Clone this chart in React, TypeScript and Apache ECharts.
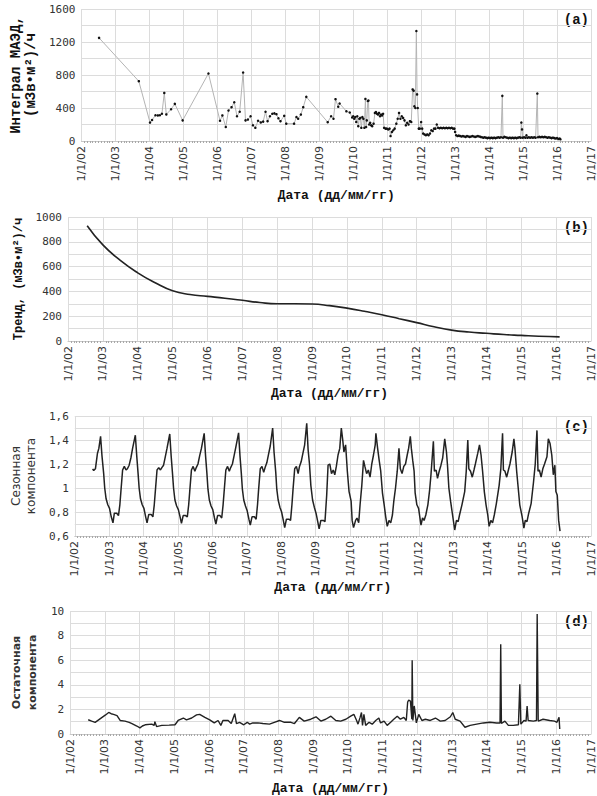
import React, { useEffect, useRef } from "react";
import * as echarts from "echarts";

// x values are decimal years
const xTickMin = 2002;
const xTickMax = 2017;

// (a) measured integral dose rate
const measured: [number, number][] = [
  [2002.52,1250],[2003.69,725],[2004.02,223],[2004.08,255],[2004.18,312],[2004.25,310],[2004.31,312],[2004.37,330],[2004.44,583],[2004.5,322],[2004.64,385],[2004.75,450],[2004.98,250],[2005.74,818],[2006.08,245],[2006.15,310],[2006.25,170],[2006.33,370],[2006.42,410],[2006.5,470],[2006.58,300],[2006.66,355],[2006.76,830],[2006.83,250],[2006.9,260],[2006.98,300],[2007.05,190],[2007.12,160],[2007.2,245],[2007.28,225],[2007.35,235],[2007.42,355],[2007.48,240],[2007.55,300],[2007.62,330],[2007.68,335],[2007.74,325],[2007.8,275],[2007.86,240],[2007.97,305],[2008.03,210],[2008.26,210],[2008.33,290],[2008.38,270],[2008.46,320],[2008.53,410],[2008.62,535],[2009.25,228],[2009.35,300],[2009.42,270],[2009.48,507],[2009.56,415],[2009.6,455],[2009.8,360],[2009.9,345],
  [2009.97,285],[2010.0,300],[2010.03,270],[2010.06,290],[2010.09,230],[2010.12,300],[2010.15,180],[2010.18,270],[2010.21,280],[2010.24,160],[2010.27,290],[2010.3,270],[2010.33,160],[2010.36,510],[2010.38,170],[2010.4,250],[2010.43,485],[2010.45,490],[2010.47,200],[2010.5,220],[2010.53,190],[2010.56,180],[2010.6,210],[2010.64,340],[2010.67,350],[2010.7,330],[2010.73,320],[2010.76,340],[2010.79,300],[2010.82,320],[2010.85,310],[2010.88,330],[2010.91,160],[2010.95,150],[2010.99,150],[2011.03,140],[2011.07,150],[2011.1,60],[2011.14,110],[2011.18,130],[2011.22,150],[2011.27,210],[2011.31,270],[2011.35,340],[2011.39,270],[2011.43,300],[2011.47,280],[2011.51,250],[2011.55,190],[2011.59,220],[2011.63,200],[2011.67,240],[2011.71,230],[2011.75,625],[2011.78,610],[2011.8,420],[2011.83,400],[2011.86,1333],[2011.88,565],[2011.9,400],[2011.93,150],[2011.96,150],[2012.0,230],[2012.03,150],[2012.06,90],[2012.1,80],[2012.14,70],[2012.18,80],[2012.22,70],[2012.26,90],[2012.3,130],[2012.34,120],[2012.38,150],[2012.42,150],[2012.46,200],[2012.5,160],[2012.54,155],[2012.58,160],[2012.62,155],[2012.66,160],[2012.7,155],[2012.74,160],[2012.78,155],[2012.82,160],[2012.86,155],[2012.9,160],[2012.94,150],[2012.98,150],
  [2013.0,110],[2013.03,70],[2013.07,60],[2013.11,65],[2013.15,60],[2013.19,55],[2013.23,60],[2013.27,55],[2013.31,50],[2013.35,60],[2013.39,55],[2013.43,50],[2013.47,55],[2013.51,60],[2013.55,55],[2013.59,50],[2013.63,55],[2013.67,60],[2013.71,55],[2013.75,50],[2013.79,45],[2013.83,40],[2013.87,45],[2013.91,40],[2013.95,35],[2013.99,40],[2014.03,35],[2014.07,40],[2014.11,35],[2014.15,40],[2014.19,35],[2014.23,40],[2014.27,45],[2014.31,40],[2014.35,45],[2014.39,547],[2014.41,40],[2014.45,50],[2014.49,45],[2014.53,40],[2014.57,35],[2014.61,40],[2014.65,35],[2014.69,40],[2014.73,35],[2014.77,40],[2014.81,35],[2014.85,40],[2014.89,45],[2014.93,40],[2014.95,223],[2014.97,140],[2014.99,40],[2015.03,45],[2015.07,40],[2015.1,70],[2015.13,40],[2015.17,45],[2015.21,40],[2015.25,45],[2015.29,40],[2015.33,45],[2015.37,40],[2015.42,575],[2015.44,45],[2015.48,50],[2015.52,45],[2015.56,50],[2015.6,45],[2015.64,50],[2015.68,45],[2015.72,40],[2015.76,45],[2015.8,40],[2015.84,35],[2015.88,40],[2015.92,35],[2015.96,30],[2016.0,35],[2016.04,25],[2016.08,30],[2016.1,20]
];

// (b) trend
const trend: [number, number][] = [
  [2002.55,930],[2003.0,775],[2003.5,650],[2004.0,550],[2004.5,470],[2005.0,405],[2005.5,375],[2006.0,360],[2006.5,345],[2007.0,328],[2007.5,310],[2008.0,300],[2008.5,300],[2009.0,298],[2009.5,285],[2010.0,265],[2010.5,240],[2011.0,212],[2011.5,180],[2012.0,148],[2012.5,115],[2013.0,88],[2013.5,72],[2014.0,62],[2014.5,52],[2015.0,45],[2015.5,38],[2016.1,33]
];

// (c) seasonal component
const seasonal: [number, number][] = [
  [2002.52,1.16],[2002.55,1.145],[2002.6,1.16],[2002.66,1.29],[2002.7,1.33],[2002.75,1.43],[2002.79,1.27],[2002.84,1.12],[2002.87,1.0],[2002.91,0.91],[2002.96,0.86],
  [2003.01,0.83],[2003.06,0.76],[2003.11,0.71],[2003.15,0.79],[2003.22,0.79],[2003.27,0.77],[2003.31,0.86],[2003.34,0.97],[2003.39,1.15],[2003.44,1.18],[2003.49,1.15],[2003.53,1.16],[2003.58,1.19],[2003.63,1.25],[2003.68,1.33],[2003.76,1.44],[2003.8,1.27],[2003.84,1.12],[2003.87,1.0],[2003.91,0.91],[2003.96,0.86],
  [2004.01,0.83],[2004.06,0.76],[2004.1,0.71],[2004.15,0.78],[2004.22,0.78],[2004.27,0.76],[2004.31,0.86],[2004.34,0.97],[2004.39,1.15],[2004.44,1.17],[2004.49,1.15],[2004.53,1.17],[2004.58,1.19],[2004.63,1.26],[2004.68,1.33],[2004.76,1.45],[2004.8,1.27],[2004.84,1.12],[2004.87,1.0],[2004.91,0.9],[2004.96,0.85],
  [2005.01,0.82],[2005.06,0.76],[2005.1,0.705],[2005.15,0.77],[2005.22,0.77],[2005.27,0.76],[2005.31,0.86],[2005.34,0.97],[2005.39,1.15],[2005.44,1.18],[2005.49,1.14],[2005.53,1.17],[2005.58,1.2],[2005.63,1.27],[2005.68,1.33],[2005.76,1.455],[2005.8,1.27],[2005.84,1.12],[2005.87,0.99],[2005.91,0.9],[2005.96,0.85],
  [2006.01,0.82],[2006.06,0.75],[2006.1,0.70],[2006.15,0.77],[2006.22,0.77],[2006.27,0.75],[2006.31,0.86],[2006.34,0.97],[2006.39,1.15],[2006.44,1.18],[2006.49,1.14],[2006.53,1.17],[2006.58,1.2],[2006.63,1.27],[2006.68,1.34],[2006.76,1.46],[2006.8,1.27],[2006.84,1.12],[2006.87,0.99],[2006.91,0.9],[2006.96,0.85],
  [2007.01,0.81],[2007.06,0.74],[2007.1,0.69],[2007.15,0.76],[2007.22,0.76],[2007.27,0.74],[2007.31,0.86],[2007.34,0.98],[2007.39,1.16],[2007.44,1.18],[2007.49,1.13],[2007.53,1.17],[2007.58,1.21],[2007.63,1.28],[2007.68,1.35],[2007.75,1.5],[2007.79,1.3],[2007.84,1.13],[2007.87,0.99],[2007.91,0.9],[2007.96,0.84],
  [2008.01,0.8],[2008.06,0.73],[2008.1,0.67],[2008.15,0.74],[2008.22,0.74],[2008.27,0.73],[2008.31,0.86],[2008.34,0.98],[2008.39,1.16],[2008.44,1.18],[2008.49,1.12],[2008.53,1.18],[2008.58,1.22],[2008.63,1.29],[2008.68,1.36],[2008.74,1.54],[2008.78,1.32],[2008.82,1.2],[2008.86,1.02],[2008.91,0.9],[2008.96,0.84],
  [2009.01,0.79],[2009.06,0.72],[2009.1,0.66],[2009.15,0.73],[2009.22,0.73],[2009.27,0.72],[2009.32,0.94],[2009.36,1.19],[2009.41,1.2],[2009.46,1.12],[2009.51,1.15],[2009.555,1.11],[2009.6,1.18],[2009.65,1.275],[2009.7,1.33],[2009.745,1.5],[2009.79,1.39],[2009.82,1.3],[2009.87,1.36],[2009.92,1.14],[2009.97,0.97],
  [2010.03,0.89],[2010.06,0.73],[2010.1,0.67],[2010.16,0.73],[2010.2,0.75],[2010.25,0.71],[2010.29,0.86],[2010.34,1.02],[2010.39,1.23],[2010.43,1.18],[2010.48,1.12],[2010.53,1.15],[2010.58,1.09],[2010.63,1.2],[2010.68,1.275],[2010.73,1.36],[2010.75,1.456],[2010.8,1.33],[2010.845,1.23],[2010.89,1.14],[2010.94,0.96],[2010.99,0.86],
  [2011.035,0.76],[2011.08,0.68],[2011.13,0.73],[2011.18,0.71],[2011.23,0.775],[2011.27,0.89],[2011.32,1.0],[2011.37,1.14],[2011.42,1.33],[2011.46,1.16],[2011.51,1.12],[2011.56,1.18],[2011.61,1.2],[2011.66,1.275],[2011.7,1.33],[2011.75,1.43],[2011.78,1.33],[2011.82,1.23],[2011.86,1.14],[2011.89,0.96],[2011.94,0.86],[2011.99,0.83],
  [2012.06,0.69],[2012.105,0.75],[2012.15,0.73],[2012.2,0.775],[2012.26,0.86],[2012.31,0.98],[2012.35,1.11],[2012.42,1.39],[2012.45,1.14],[2012.5,1.15],[2012.54,1.08],[2012.59,1.14],[2012.64,1.19],[2012.69,1.25],[2012.75,1.41],[2012.8,1.3],[2012.83,1.19],[2012.87,1.0],[2012.92,0.89],[2012.965,0.8],
  [2013.04,0.65],[2013.09,0.73],[2013.14,0.72],[2013.18,0.775],[2013.25,0.86],[2013.33,0.97],[2013.375,1.14],[2013.42,1.40],[2013.45,1.16],[2013.5,1.14],[2013.55,1.09],[2013.6,1.15],[2013.64,1.2],[2013.71,1.29],[2013.76,1.36],[2013.805,1.275],[2013.85,1.14],[2013.9,0.97],[2013.95,0.86],
  [2014.0,0.775],[2014.04,0.68],[2014.09,0.73],[2014.14,0.71],[2014.19,0.775],[2014.25,0.87],[2014.33,1.02],[2014.38,1.16],[2014.43,1.456],[2014.455,1.15],[2014.5,1.14],[2014.55,1.09],[2014.6,1.15],[2014.645,1.2],[2014.71,1.3],[2014.76,1.41],[2014.79,1.33],[2014.84,1.14],[2014.885,1.0],[2014.93,0.86],
  [2015.0,0.76],[2015.05,0.665],[2015.09,0.73],[2015.14,0.72],[2015.19,0.79],[2015.26,0.87],[2015.33,1.05],[2015.38,1.2],[2015.43,1.48],[2015.46,1.14],[2015.5,1.15],[2015.55,1.09],[2015.6,1.16],[2015.65,1.2],[2015.72,1.26],[2015.76,1.41],[2015.81,1.37],[2015.86,1.275],[2015.905,1.11],[2015.95,1.19],[2015.98,0.97],
  [2016.02,0.94],[2016.06,0.73],[2016.1,0.64]
];

// (d) residual component
const residual: [number, number][] = [
  [2002.52,1.16],[2002.62,1.05],[2002.72,0.95],[2002.82,1.15],[2002.92,1.35],[2003.02,1.55],[2003.11,1.75],[2003.18,1.65],[2003.25,1.6],[2003.35,1.5],[2003.44,1.1],[2003.58,1.05],[2003.7,0.95],[2003.78,0.85],[2003.92,0.65],[2004.01,0.5],[2004.08,0.65],[2004.16,0.75],[2004.35,0.8],[2004.42,0.7],[2004.44,1.0],[2004.49,0.6],[2004.64,0.7],[2004.85,0.72],
  [2005.02,0.75],[2005.11,1.1],[2005.26,1.3],[2005.35,1.15],[2005.5,1.3],[2005.64,1.55],[2005.73,1.6],[2005.88,1.35],[2006.02,1.15],[2006.15,0.9],[2006.26,1.1],[2006.34,0.7],[2006.4,1.1],[2006.55,1.1],[2006.64,0.85],[2006.74,1.65],[2006.79,0.85],[2006.88,0.95],[2007.0,0.75],[2007.1,0.95],[2007.17,0.8],[2007.26,0.9],[2007.41,0.9],[2007.55,0.85],[2007.74,0.8],[2007.88,0.95],
  [2008.03,1.1],[2008.17,0.95],[2008.36,0.95],[2008.46,0.85],[2008.6,1.35],[2008.74,1.05],[2008.93,1.2],[2009.08,1.4],[2009.22,1.05],[2009.36,1.2],[2009.51,1.45],[2009.65,1.1],[2009.79,1.05],[2009.94,1.2],[2010.08,1.45],[2010.17,1.6],[2010.25,1.1],[2010.29,0.8],[2010.35,1.35],[2010.39,1.75],[2010.42,0.7],[2010.46,1.6],[2010.51,0.7],[2010.61,0.95],[2010.7,0.8],[2010.8,1.1],[2010.89,1.3],[2010.94,0.9],
  [2011.04,1.05],[2011.13,0.7],[2011.23,0.95],[2011.32,1.2],[2011.42,1.45],[2011.51,1.2],[2011.61,1.35],[2011.68,1.1],[2011.72,2.6],[2011.75,2.75],[2011.8,2.67],[2011.84,1.2],[2011.85,6.0],[2011.87,1.1],[2011.91,2.28],[2011.97,0.9],[2012.04,1.6],[2012.13,1.1],[2012.23,1.2],[2012.37,1.1],[2012.52,1.3],[2012.66,1.05],[2012.8,1.1],[2012.95,1.4],[2013.02,1.75],[2013.09,1.2],[2013.23,1.05],[2013.37,0.55],[2013.52,0.7],[2013.71,0.8],[2013.9,0.9],
  [2014.09,0.95],[2014.28,0.9],[2014.38,0.9],[2014.4,7.3],[2014.42,0.85],[2014.52,1.05],[2014.62,0.7],[2014.76,0.7],[2014.91,0.75],[2014.95,4.05],[2014.98,0.8],[2015.07,1.1],[2015.13,1.05],[2015.16,2.28],[2015.19,1.1],[2015.34,1.05],[2015.43,1.1],[2015.45,9.76],[2015.48,1.05],[2015.62,1.2],[2015.81,1.1],[2015.95,1.05],[2016.02,0.95],[2016.08,1.35],[2016.1,0.4]
];

const xTitle = "Дата (дд/мм/гг)";
const yTitles = ["Интеграл МАЭД,\n(мЗв•м²)/ч", "Тренд, (мЗв•м²)/ч", "Сезонная\nкомпонента", "Остаточная\nкомпонента"];
const panelLabels = ["(a)", "(b)", "(c)", "(d)"];

const gridBoxes = [
  { top: 9, height: 132, nameGap: 48 },
  { top: 217, height: 124, nameGap: 46 },
  { top: 416, height: 120, nameGap: 45 },
  { top: 611, height: 126, nameGap: 48 },
];

const GRID_COLOR = "#dcdcdc";
const MONO = '"Liberation Mono", "Courier New", monospace';
const SANS = '"DejaVu Sans", sans-serif';

function xAxisFor(i: number) {
  return {
    type: "value",
    gridIndex: i,
    min: xTickMin,
    max: xTickMax,
    interval: 1,
    name: xTitle,
    nameLocation: "middle",
    nameGap: gridBoxes[i].nameGap,
    nameTextStyle: { fontFamily: MONO, fontWeight: "bold", fontSize: 13, color: "#111" },
    axisLine: { show: true, lineStyle: { color: "#c8c8c8", width: 1 } },
    axisTick: { show: false },
    minorTick: { show: true, splitNumber: 12, length: 2, lineStyle: { color: "#a8a8a8" } },
    splitLine: { show: true, lineStyle: { color: GRID_COLOR, width: 1 } },
    axisLabel: {
      rotate: 90,
      margin: 5,
      fontFamily: SANS,
      fontSize: 11,
      color: "#333",
      formatter: (v: number) => "1/1/" + String(Math.round(v) % 100).padStart(2, "0"),
    },
  };
}

export default function App() {
  const ref = useRef<HTMLDivElement>(null);
  useEffect(() => {
    if (!ref.current) return;
    const chart = echarts.init(ref.current, null, { renderer: "svg" });
    const yCommon = {
      axisLine: { show: false },
      axisTick: { show: false },
      splitLine: { show: true, lineStyle: { color: GRID_COLOR, width: 1 } },
      minorTick: { show: false, splitNumber: 2 },
      minorSplitLine: { show: true, lineStyle: { color: GRID_COLOR, width: 1 } },
      nameLocation: "middle",
    };
    const labelStyle = {
      fontFamily: '"DejaVu Sans Mono", monospace', fontSize: 11, color: "#333", margin: 6,
      formatter: (v: number) => String(v),
    };
    const option = {
      animation: false,
      backgroundColor: "#ffffff",
      grid: gridBoxes.map((g) => ({ left: 68, right: 6, top: g.top, height: g.height, containLabel: false })),
      xAxis: [0, 1, 2, 3].map((i) => xAxisFor(i)),
      yAxis: [
        {
          ...yCommon, type: "value", gridIndex: 0, min: 0, max: 1600, interval: 400,
          name: yTitles[0], nameGap: 32,
          nameTextStyle: { fontFamily: MONO, fontWeight: "bold", fontSize: 14, lineHeight: 15, color: "#111" },
          axisLabel: { ...labelStyle },
        },
        {
          ...yCommon, type: "value", gridIndex: 1, min: 0, max: 1000, interval: 200,
          name: yTitles[1], nameGap: 40,
          nameTextStyle: { fontFamily: MONO, fontWeight: "bold", fontSize: 12, color: "#111" },
          axisLabel: { ...labelStyle },
        },
        {
          ...yCommon, type: "value", gridIndex: 2, min: 0.6, max: 1.6, interval: 0.2,
          name: yTitles[2], nameGap: 28,
          nameTextStyle: { fontFamily: SANS, fontSize: 12, lineHeight: 15, color: "#333" },
          axisLabel: { ...labelStyle, formatter: (v: number) => String(Math.round(v * 10) / 10).replace(".", ",") },
        },
        {
          ...yCommon, type: "value", gridIndex: 3, min: 0, max: 10, interval: 2,
          name: yTitles[3], nameGap: 21,
          nameTextStyle: { fontFamily: SANS, fontWeight: "bold", fontSize: 11, lineHeight: 16, color: "#333" },
          axisLabel: { ...labelStyle },
        },
      ],
      series: [
        {
          type: "line", xAxisIndex: 0, yAxisIndex: 0, data: measured,
          symbol: "circle", symbolSize: 2.5, showSymbol: true,
          lineStyle: { color: "#b4b4b4", width: 1 },
          itemStyle: { color: "#111" },
        },
        {
          type: "line", xAxisIndex: 1, yAxisIndex: 1, data: trend, smooth: true,
          showSymbol: false, lineStyle: { color: "#222", width: 1.6 },
        },
        {
          type: "line", xAxisIndex: 2, yAxisIndex: 2, data: seasonal,
          showSymbol: false, lineStyle: { color: "#222", width: 1.5 },
        },
        {
          type: "line", xAxisIndex: 3, yAxisIndex: 3, data: residual,
          showSymbol: false, lineStyle: { color: "#222", width: 1.4 },
        },
      ],
      graphic: gridBoxes.map((g, i) => ({
        type: "text",
        right: 8,
        top: g.top + 4,
        style: {
          text: panelLabels[i],
          font: 'bold 14px "Liberation Mono", monospace',
          fill: "#111",
        },
      })),
    };
    chart.setOption(option as any);
    return () => chart.dispose();
  }, []);
  return (
    <div
      ref={ref}
      style={{ position: "fixed", left: 0, top: 0, width: 597, height: 796, background: "#fff" }}
    />
  );
}
